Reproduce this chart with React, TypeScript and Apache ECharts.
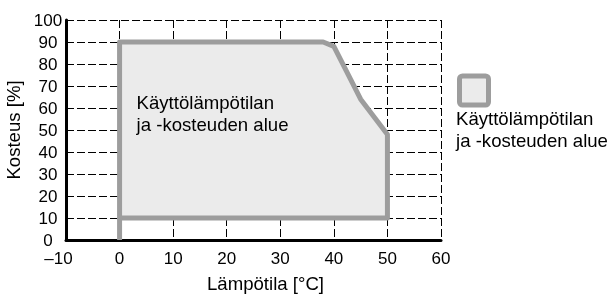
import React, { useEffect, useRef } from "react";
import * as echarts from "echarts";

const xTicks = [-10, 0, 10, 20, 30, 40, 50, 60];
const yTicks = [0, 10, 20, 30, 40, 50, 60, 70, 80, 90, 100];
// Operating area polygon (temperature °C, humidity %)
const areaTemp = [0, 0, 38, 40, 45, 50, 50];
const areaHumidity = [10, 90, 90, 88, 64, 48, 10];
// Left stub line from 0 % to 10 % at 0 °C
const stubTemp = [0, 0];
const stubHumidity = [0, 10];
const areaLabel = "Käyttölämpötilan\nja -kosteuden alue";
const legendLabel = "Käyttölämpötilan\nja -kosteuden alue";

const FONT = "'Liberation Sans', Arial, sans-serif";
const EDGE = "#9d9d9d";
const FILL = "#ebebeb";
const TICK_FS = 17;
const TEXT_FS = 18.6;

export default function App() {
  const ref = useRef<HTMLDivElement>(null);
  useEffect(() => {
    if (!ref.current) return;
    const chart = echarts.init(ref.current, null, { renderer: "svg" });
    const polyData = areaTemp.map((t, i) => [t, areaHumidity[i]]);
    const stubData = stubTemp.map((t, i) => [t, stubHumidity[i]]);
    chart.setOption({
      animation: false,
      grid: {
        left: 66,
        right: 170,
        top: 20,
        bottom: 56,
        containLabel: false,
        outerBoundsMode: "none",
      },
      textStyle: { fontFamily: FONT },
      xAxis: {
        type: "value",
        min: xTicks[0],
        max: xTicks[xTicks.length - 1],
        interval: 10,
        name: "Lämpötila [°C]",
        nameLocation: "middle",
        nameGap: 34,
        nameTextStyle: {
          fontSize: TEXT_FS,
          color: "#000",
          fontFamily: FONT,
          padding: [0, 0, 0, 24],
        },
        axisLine: { show: true, onZero: false, lineStyle: { color: "#000", width: 3 } },
        axisTick: { show: false },
        axisLabel: {
          fontSize: TICK_FS,
          color: "#000",
          fontFamily: FONT,
          margin: 10,
          formatter: (v: number) => (v < 0 ? "{neg|–" + Math.abs(v) + "}" : String(v)),
          rich: {
            neg: { fontSize: TICK_FS, color: "#000", fontFamily: FONT, padding: [0, 15, 0, 0] },
          },
        },
        splitLine: { show: true, lineStyle: { color: "#000", width: 1, type: [8, 3] } },
      },
      yAxis: {
        type: "value",
        min: yTicks[0],
        max: yTicks[yTicks.length - 1],
        interval: 10,
        name: "Kosteus [%]",
        nameLocation: "middle",
        nameGap: 42,
        nameTextStyle: { fontSize: TEXT_FS, color: "#000", fontFamily: FONT },
        axisLine: { show: true, onZero: false, lineStyle: { color: "#000", width: 3 } },
        axisTick: { show: false },
        axisLabel: {
          fontSize: TICK_FS,
          color: "#000",
          fontFamily: FONT,
          margin: 18,
          align: "center",
          padding: [0, 0, 5, 0],
        },
        splitLine: { show: true, lineStyle: { color: "#000", width: 1, type: [8, 3] } },
      },
      series: [
        {
          type: "custom",
          data: [0],
          coordinateSystem: "cartesian2d",
          z: 5,
          renderItem: (params: any, api: any) => {
            const pts = polyData.map((p) => api.coord(p));
            const stub = stubData.map((p) => api.coord(p));
            const top = api.coord([areaTemp[1], areaHumidity[1]]);
            return {
              type: "group",
              children: [
                {
                  type: "polygon",
                  shape: { points: pts },
                  style: { fill: FILL, stroke: EDGE, lineWidth: 5, lineJoin: "round" },
                },
                {
                  type: "line",
                  shape: { x1: stub[0][0], y1: stub[0][1], x2: stub[1][0], y2: stub[1][1] },
                  style: { stroke: EDGE, lineWidth: 5 },
                },
                {
                  type: "text",
                  x: top[0] + 17,
                  y: top[1] + 71.5,
                  style: {
                    text: areaLabel,
                    fontSize: TEXT_FS,
                    fontFamily: FONT,
                    fill: "#000",
                    lineHeight: 22,
                    textVerticalAlign: "middle",
                  },
                },
              ],
            };
          },
        },
      ],
      graphic: [
        {
          type: "rect",
          shape: { x: 459.5, y: 76, width: 29, height: 29, r: 3 },
          style: { fill: FILL, stroke: EDGE, lineWidth: 5 },
        },
        {
          type: "text",
          x: 456,
          y: 129,
          style: {
            text: legendLabel,
            fontSize: TEXT_FS,
            fontFamily: FONT,
            fill: "#000",
            lineHeight: 22,
            textVerticalAlign: "middle",
          },
        },
      ],
    });
    return () => chart.dispose();
  }, []);
  return (
    <div
      ref={ref}
      style={{ position: "fixed", left: 0, top: 0, width: 611, height: 296 }}
    />
  );
}
